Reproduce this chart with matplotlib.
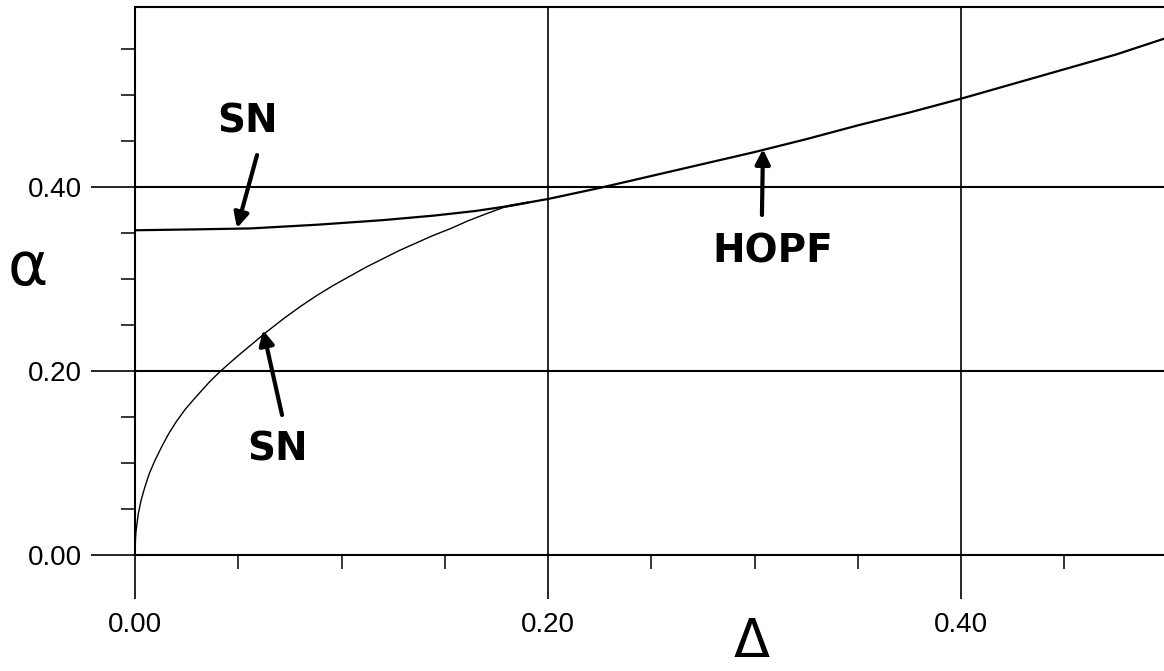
import numpy as np
import matplotlib
matplotlib.use("Agg")
import matplotlib.pyplot as plt
from matplotlib.ticker import MultipleLocator, FormatStrFormatter

# SN curve, upper branch (flat part) up to the merge point
sn_up_d = [0.000, 0.030, 0.056, 0.088, 0.120, 0.145, 0.165, 0.180, 0.190]
sn_up_a = [0.353, 0.354, 0.355, 0.359, 0.364, 0.369, 0.374, 0.379, 0.383]

# SN curve, lower branch (square-root like) up to the merge point
sn_lo_d = [0.000, 0.0002, 0.0005, 0.0016, 0.003, 0.0048, 0.007, 0.0097, 0.013,
           0.0161, 0.020, 0.0242, 0.028, 0.032, 0.036, 0.041, 0.046, 0.0517,
           0.056, 0.064, 0.072, 0.080, 0.088, 0.096, 0.104, 0.112, 0.120,
           0.128, 0.136, 0.144, 0.153, 0.161, 0.169, 0.175, 0.180]
sn_lo_a = [0.000, 0.016, 0.026, 0.045, 0.060, 0.074, 0.089, 0.103, 0.118,
           0.131, 0.145, 0.158, 0.168, 0.178, 0.188, 0.199, 0.209, 0.220,
           0.228, 0.243, 0.257, 0.270, 0.282, 0.293, 0.303, 0.313, 0.322,
           0.331, 0.339, 0.347, 0.355, 0.363, 0.370, 0.375, 0.379]

# Hopf curve from the merge point to the right edge
hopf_d = [0.180, 0.190, 0.200, 0.225, 0.250, 0.275, 0.300, 0.325, 0.350,
          0.375, 0.400, 0.425, 0.450, 0.475, 0.498]
hopf_a = [0.379, 0.383, 0.387, 0.399, 0.412, 0.425, 0.438, 0.452, 0.467,
          0.481, 0.496, 0.512, 0.528, 0.544, 0.561]

xmax = 0.4983
ymax = 0.5957

fig = plt.figure(figsize=(11.64, 6.71), dpi=100)
ax = fig.add_axes([135 / 1164, 116 / 671, 1 - 135 / 1164, 548 / 671])
ax.set_xlim(0, xmax)
ax.set_ylim(0, ymax)

# grid lines at major ticks
for v in [0.2, 0.4]:
    ax.axvline(v, color="black", lw=1.2, zorder=1)
    ax.axhline(v, color="black", lw=1.5, zorder=1)

ax.plot(sn_up_d, sn_up_a, color="black", lw=1.6, zorder=3)
ax.plot(sn_lo_d, sn_lo_a, color="black", lw=1.0, zorder=3)
ax.plot(hopf_d, hopf_a, color="black", lw=1.6, zorder=3)

ax.xaxis.set_major_locator(MultipleLocator(0.2))
ax.xaxis.set_minor_locator(MultipleLocator(0.05))
ax.yaxis.set_major_locator(MultipleLocator(0.2))
ax.yaxis.set_minor_locator(MultipleLocator(0.05))
ax.xaxis.set_major_formatter(FormatStrFormatter("%.2f"))
ax.yaxis.set_major_formatter(FormatStrFormatter("%.2f"))
# lengths in points (100 dpi -> 1 px = 0.72 pt)
ax.tick_params(which="major", length=32, width=1.2, labelsize=20, pad=6,
               labelfontfamily="Liberation Sans")
ax.tick_params(axis="x", which="major", pad=9)
ax.tick_params(which="minor", length=10, width=1.1)
ax.spines["right"].set_visible(False)
for s in ["left", "bottom", "top"]:
    ax.spines[s].set_linewidth(1.5)

hand = dict(fontsize=28, fontweight="bold", family="DejaVu Sans",
            ha="center", va="center")
arrow = dict(arrowstyle="-|>", lw=3, color="black", mutation_scale=22,
             shrinkA=0, shrinkB=0)

ax.text(0.0547, 0.4707, "SN", **hand)
ax.annotate("", xy=(0.0494, 0.3554), xytext=(0.0591, 0.4348), arrowprops=arrow)

ax.text(0.0688, 0.1152, "SN", **hand)
ax.annotate("", xy=(0.0620, 0.2446), xytext=(0.0712, 0.1522), arrowprops=arrow)

ax.text(0.3090, 0.3304, "HOPF", **hand)
ax.annotate("", xy=(0.3041, 0.4413), xytext=(0.3036, 0.3696), arrowprops=arrow)

fig.text(28 / 1164, 1 - 268 / 671, "α", fontsize=44, ha="center", va="center")
fig.text(752 / 1164, 1 - 642 / 671, "Δ", fontsize=38, ha="center", va="center")

fig.savefig("out.png", dpi=100)
